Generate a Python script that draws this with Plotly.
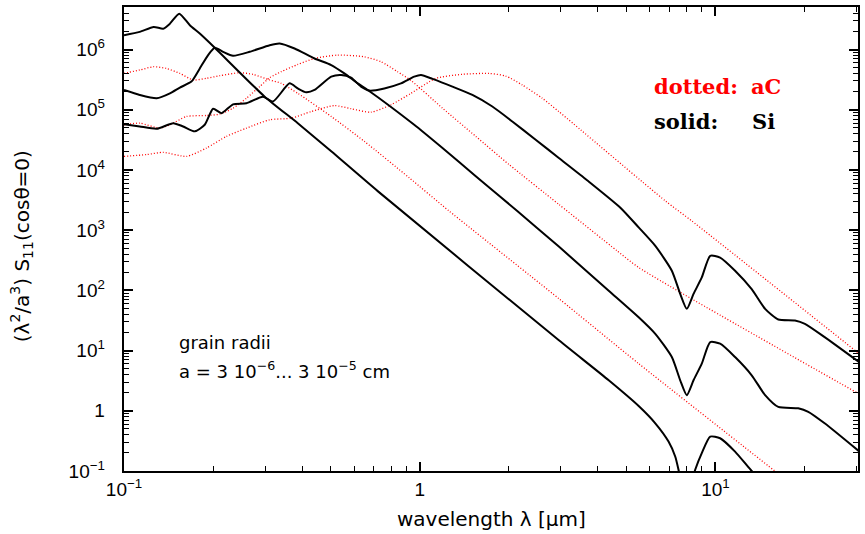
import plotly.graph_objects as go

# wavelength [micron] and (lambda^2/a^3) S11(cos theta = 0) for each grain
si_small_lam = [0.100, 0.113, 0.126, 0.1357, 0.143, 0.1537, 0.167, 0.1804, 0.2027, 0.299, 0.387,
                0.502, 0.721, 2.955, 4.356, 5.50, 6.26, 6.94, 7.31, 7.50, 7.9, 8.54, 8.99, 9.60,
                10.37, 11.65, 13.26, 16.3, 20.6, 30.5]
si_small_val = [1.73e6, 1.96e6, 2.37e6, 2.22e6, 2.69e6, 3.94e6, 2.53e6, 1.84e6, 1.07e6, 1.65e5, 5.98e4,
                2.04e4, 4.45e3, 14.8, 3.21, 1.2, 0.62, 0.308, 0.174, 0.105, 0.03, 0.105, 0.198, 0.372,
                0.350, 0.210, 0.10, 0.035, 0.026, 0.006]

si_mid_lam = [0.100, 0.113, 0.129, 0.143, 0.1545, 0.169, 0.1804, 0.1925, 0.2027, 0.2163, 0.2337,
              0.266, 0.311, 0.336, 0.3774, 0.4408, 0.502, 0.556, 0.617, 0.667, 0.958, 1.194, 1.547,
              2.137, 2.954, 4.356, 5.50, 6.26, 7.12, 7.60, 8.00, 8.43, 8.99, 9.60, 10.37, 11.65,
              13.26, 14.72, 16.31, 19.05, 20.6, 23.4, 30.5]
si_mid_val = [2.13e5, 1.76e5, 1.55e5, 1.87e5, 2.33e5, 2.93e5, 4.85e5, 8.08e5, 1.07e6, 9.16e5, 7.87e5,
              9.16e5, 1.18e6, 1.26e6, 1.04e6, 7.10e5, 5.52e5, 4.01e5, 2.74e5, 2.13e5, 5.62e4, 2.31e4,
              7.87e3, 2.08e3, 533, 98.9, 35.8, 19.0, 7.81, 3.21, 1.82, 3.21, 6.07, 13.8, 13.0, 7.81,
              3.89, 1.82, 1.16, 1.10, 0.963, 0.62, 0.215]

si_big_lam = [0.100, 0.113, 0.129, 0.1467, 0.1585, 0.1736, 0.1875, 0.2001, 0.2136, 0.2337, 0.2594,
              0.295, 0.319, 0.363, 0.387, 0.4133, 0.4408, 0.502, 0.542, 0.586, 0.633, 0.676, 0.759,
              0.864, 0.958, 1.01, 1.105, 1.29, 1.507, 1.76, 2.056, 2.466, 2.954, 3.68, 4.77, 5.50,
              6.26, 7.12, 7.60, 8.00, 8.43, 8.99, 9.60, 10.37, 11.65, 13.26, 14.72, 16.31, 18.57,
              20.07, 23.4, 30.5]
si_big_val = [5.75e4, 5.27e4, 4.83e4, 5.98e4, 5.27e4, 4.37e4, 5.62e4, 1.04e5, 8.75e4, 1.23e5, 1.28e5,
              1.65e5, 1.37e5, 2.74e5, 2.26e5, 1.95e5, 2.13e5, 3.54e5, 3.78e5, 3.40e5, 2.42e5, 2.08e5,
              2.26e5, 2.74e5, 3.54e5, 3.78e5, 3.25e5, 2.42e5, 1.76e5, 1.13e5, 6.38e4, 3.18e4, 1.58e4,
              6.76e3, 2.36e3, 1.11e3, 548, 212, 87.3, 49.3, 87.3, 164, 375, 351, 212, 105, 49.3,
              32.8, 31.6, 27.8, 16.7, 6.5]

ac_small_lam = [0.100, 0.113, 0.126, 0.139, 0.1545, 0.1713, 0.190, 0.2108, 0.246, 0.273, 0.311,
                0.340, 0.387, 0.502, 0.650, 0.922, 1.257, 2.954, 5.50, 15.87, 30.5]
ac_small_val = [4.01e5, 4.57e5, 5.18e5, 4.85e5, 4.01e5, 3.12e5, 3.32e5, 3.67e5, 4.12e5, 3.87e5, 3.12e5,
                2.74e5, 1.87e5, 7.73e4, 2.98e4, 7.38e3, 2.08e3, 73.0, 6.07, 0.1, 0.008]

ac_mid_lam = [0.100, 0.113, 0.1323, 0.143, 0.1627, 0.190, 0.2108, 0.2337, 0.2594, 0.2875, 0.311,
              0.340, 0.387, 0.4408, 0.528, 0.650, 0.740, 0.841, 0.936, 1.194, 1.547, 2.004, 2.954,
              4.65, 5.50, 30.5]
ac_mid_val = [5.62e4, 5.98e4, 4.94e4, 5.62e4, 7.73e4, 8.02e4, 8.43e4, 1.06e5, 1.55e5, 2.42e5, 3.40e5,
              4.28e5, 5.65e5, 7.10e5, 8.08e5, 7.57e5, 6.27e5, 4.28e5, 3.04e5, 1.06e5, 3.61e4, 1.23e4,
              2.68e3, 453, 240, 1.92]

ac_big_lam = [0.100, 0.1193, 0.1357, 0.1627, 0.190, 0.222, 0.2594, 0.311, 0.368, 0.4295, 0.515,
              0.586, 0.684, 0.800, 0.934, 1.134, 1.394, 1.715, 1.953, 2.222, 2.596, 2.954, 6.78,
              8.32, 30.5]
ac_big_val = [1.68e4, 1.80e4, 1.96e4, 1.68e4, 2.31e4, 3.61e4, 4.94e4, 6.81e4, 7.25e4, 9.33e4, 1.17e5,
              1.04e5, 9.10e4, 1.21e5, 1.87e5, 3.32e5, 3.87e5, 4.01e5, 3.63e5, 2.58e5, 1.55e5, 9.33e4,
              3.04e3, 1.42e3, 9.0]

# decade tick labels, keyed by plotly's default log-axis label text
x_tick_labels = {"0.1": "10<sup>\u22121</sup>", "1": "1", "10": "10<sup>1</sup>"}
gap = "\u2002\u2009"
y_tick_labels = {"0.1": "10<sup>\u22121</sup>" + gap, "1": "1" + gap, "10": "10<sup>1</sup>" + gap,
                 "100": "10<sup>2</sup>" + gap, "1000": "10<sup>3</sup>" + gap,
                 "10k": "10<sup>4</sup>" + gap, "100k": "10<sup>5</sup>" + gap,
                 "1M": "10<sup>6</sup>" + gap}

X_RANGE = [-1, 1.482]
Y_RANGE = [-1, 6.706]

fig = go.Figure()

red_dot = dict(color="#ff0000", width=1.3, dash="1px,2px")
for lam, val in [(ac_small_lam, ac_small_val), (ac_mid_lam, ac_mid_val), (ac_big_lam, ac_big_val)]:
    fig.add_trace(go.Scatter(x=lam, y=val, mode="lines",
                             line=dict(shape="spline", smoothing=0.6, **red_dot),
                             showlegend=False, hoverinfo="skip"))

for lam, val in [(si_small_lam, si_small_val), (si_mid_lam, si_mid_val), (si_big_lam, si_big_val)]:
    fig.add_trace(go.Scatter(x=lam, y=val, mode="lines",
                             line=dict(color="black", width=2, shape="spline", smoothing=0.6),
                             showlegend=False, hoverinfo="skip"))

tick_font = dict(family="Liberation Sans, Arial, sans-serif", size=19, color="black")
axis_common = dict(
    type="log", dtick=1, showline=True, linewidth=2, linecolor="black", mirror="ticks",
    ticks="inside", ticklen=9, tickwidth=1.5, tickcolor="black", showgrid=False,
    zeroline=False, tickfont=tick_font,
    minor=dict(ticks="inside", ticklen=5, tickwidth=1, tickcolor="black", showgrid=False),
)

fig.update_xaxes(**axis_common, range=X_RANGE, labelalias=x_tick_labels)
fig.update_yaxes(**axis_common, range=Y_RANGE, labelalias=y_tick_labels)

label_font = dict(family="DejaVu Sans, sans-serif", size=20, color="black")
note_font = dict(family="DejaVu Sans, sans-serif", size=18, color="black")
key_font_red = dict(family="DejaVu Serif, serif", size=21, color="#ff0000")
key_font_black = dict(family="DejaVu Serif, serif", size=21, color="black")

annotations = [
    dict(text="wavelength \u03bb [\u00b5m]", x=0.5, y=-48 / 466, xref="paper", yref="paper",
         xanchor="center", yanchor="middle", showarrow=False, font=label_font),
    dict(text="(\u03bb<sup>2</sup>/a<sup>3</sup>) S<sub>11</sub>(cos\u03b8=0)", x=-102 / 736, y=226 / 466,
         xref="paper", yref="paper", xanchor="center", yanchor="middle", textangle=-90,
         showarrow=False, font=label_font),
    dict(text="grain radii", x=53 / 736, y=129 / 466, xref="paper", yref="paper", align="left",
         xanchor="left", yanchor="middle", showarrow=False, font=note_font),
    dict(text="a = 3 10<sup>\u22126</sup>... 3 10<sup>\u22125</sup> cm", x=53 / 736, y=101 / 466,
         xref="paper", yref="paper", align="left",
         xanchor="left", yanchor="middle", showarrow=False, font=note_font),
    dict(text="<b>dotted:</b>", x=529 / 736, y=386 / 466, xref="paper", yref="paper",
         xanchor="left", yanchor="middle", showarrow=False, font=key_font_red),
    dict(text="<b>aC</b>", x=627 / 736, y=386 / 466, xref="paper", yref="paper",
         xanchor="left", yanchor="middle", showarrow=False, font=key_font_red),
    dict(text="<b>solid:</b>", x=529 / 736, y=351 / 466, xref="paper", yref="paper",
         xanchor="left", yanchor="middle", showarrow=False, font=key_font_black),
    dict(text="<b>Si</b>", x=628 / 736, y=351 / 466, xref="paper", yref="paper",
         xanchor="left", yanchor="middle", showarrow=False, font=key_font_black),
]

fig.update_layout(
    width=865, height=534,
    margin=dict(l=124, r=5, t=5, b=63),
    paper_bgcolor="white", plot_bgcolor="white",
    annotations=annotations,
    showlegend=False,
)

fig.write_html("out.html")
